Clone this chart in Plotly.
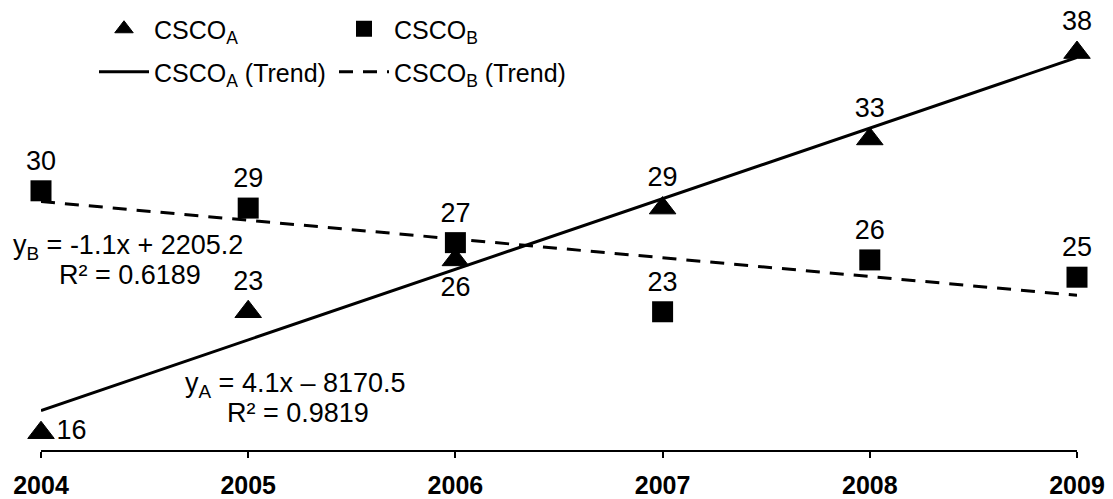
import numpy as np
import plotly.graph_objects as go

years = [2004, 2005, 2006, 2007, 2008, 2009]
csco_a = [16, 23, 26, 29, 33, 38]
csco_b = [30, 29, 27, 23, 26, 25]
pos_a = ["middle right", "top center", "bottom center", "top center", "top center", "top center"]
pos_b = ["top center"] * 6
eq_a_lines = ["y<sub>A</sub> = 4.1x – 8170.5", "R² = 0.9819"]
eq_b_lines = ["y<sub>B</sub> = -1.1x + 2205.2", "R² = 0.6189"]

FONT = "Liberation Sans, Arial, sans-serif"
W, H = 1113, 499
ML, MR, MT, MB = 41, 36, 18, 49
PW, PH = W - ML - MR, H - MT - MB

x = np.array(years, dtype=float)
ka, ba = np.polyfit(x, csco_a, 1)
kb, bb = np.polyfit(x, csco_b, 1)
trend_a = ka * x + ba
trend_b = kb * x + bb

LBL = 27
fig = go.Figure()
fig.add_trace(go.Scatter(x=years, y=csco_a, mode="markers+text", name="CSCO<sub>A</sub>",
                         marker=dict(symbol="triangle-up", size=23, color="black",
                                     line=dict(width=1, color="black")),
                         text=[str(v) for v in csco_a], textposition=pos_a,
                         textfont=dict(size=LBL, color="black", family=FONT),
                         cliponaxis=False, legend="legend"))
fig.add_trace(go.Scatter(x=years, y=csco_b, mode="markers+text", name="CSCO<sub>B</sub>",
                         marker=dict(symbol="square", size=21, color="black"),
                         text=[str(v) for v in csco_b], textposition=pos_b,
                         textfont=dict(size=LBL, color="black", family=FONT),
                         cliponaxis=False, legend="legend"))
fig.add_trace(go.Scatter(x=years, y=trend_a, mode="lines", name="CSCO<sub>A</sub> (Trend)",
                         line=dict(color="black", width=3), legend="legend2"))
fig.add_trace(go.Scatter(x=years, y=trend_b, mode="lines", name="CSCO<sub>B</sub> (Trend)",
                         line=dict(color="black", width=3, dash="14px,10px"), legend="legend2"))

for txt, ax, ay in [(eq_a_lines[0], 2005.226, 18.76), (eq_a_lines[1], 2005.24, 17.14),
                    (eq_b_lines[0], 2004.42, 26.75), (eq_b_lines[1], 2004.43, 25.13)]:
    fig.add_annotation(x=ax, y=ay, text=txt, showarrow=False, align="center",
                       font=dict(size=LBL, color="black", family=FONT))

leg_common = dict(orientation="h", xref="paper", yref="paper",
                  xanchor="left", yanchor="middle", entrywidth=175, entrywidthmode="pixels",
                  itemwidth=50, font=dict(size=25, family=FONT, color="black"),
                  bgcolor="rgba(0,0,0,0)")
lx = (94 - ML) / PW
fig.update_layout(
    width=W, height=H,
    margin=dict(l=ML, r=MR, t=MT, b=MB, autoexpand=False),
    plot_bgcolor="white", paper_bgcolor="white",
    font=dict(family=FONT, size=25, color="black"),
    xaxis=dict(range=[2004, 2009], tickvals=years, ticktext=[str(y) for y in years],
               showgrid=False, zeroline=False, showline=True, linecolor="black", linewidth=2,
               ticks="outside", ticklen=6, tickwidth=2, tickcolor="black", ticklabelstandoff=6,
               tickfont=dict(size=25, family=FONT, color="black", weight="bold"),
               automargin=False),
    yaxis=dict(range=[15, 40], visible=False),
    legend=dict(**leg_common, x=lx, y=1 - (29 - MT) / PH),
    legend2=dict(**leg_common, x=lx, y=1 - (72 - MT) / PH),
    showlegend=True,
)

fig.write_html("out.html", config={"displayModeBar": False},
               post_script="document.body.style.margin='0';")
